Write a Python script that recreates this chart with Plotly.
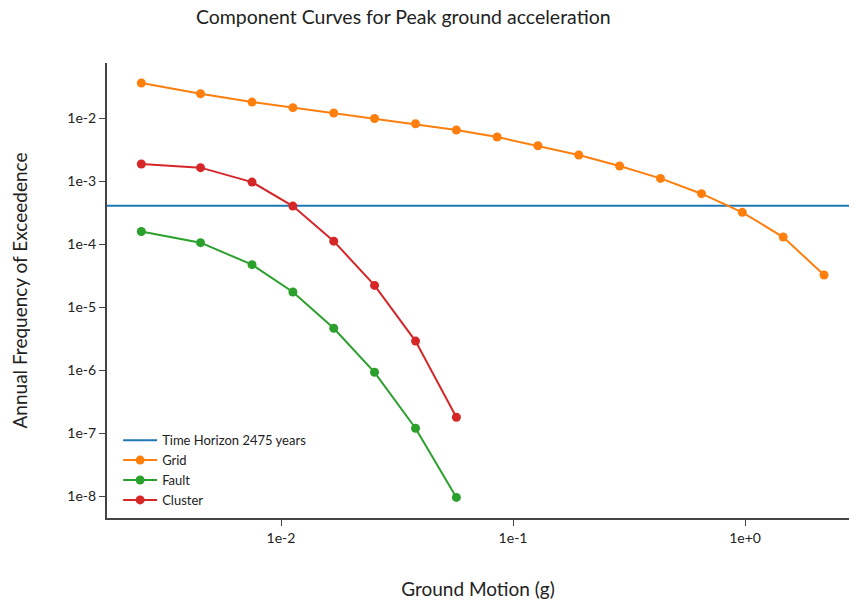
import plotly.graph_objects as go

# ground motion levels (g)
imls = [0.0025, 0.0045, 0.0075, 0.01125, 0.016875, 0.0253, 0.038, 0.057, 0.0854,
        0.128, 0.192, 0.288, 0.432, 0.649, 0.973, 1.46, 2.19]

grid = [0.036, 0.0243, 0.0179, 0.0146, 0.0120, 0.00982, 0.00812, 0.00646, 0.00499,
        0.00363, 0.00259, 0.00173, 0.00110, 6.29e-4, 3.18e-4, 1.29e-4, 3.22e-5]
fault = [1.58e-4, 1.05e-4, 4.7e-5, 1.73e-5, 4.6e-6, 9.2e-7, 1.19e-7, 9.5e-9]
cluster = [1.86e-3, 1.63e-3, 9.6e-4, 4.0e-4, 1.11e-4, 2.2e-5, 2.88e-6, 1.78e-7]

time_horizon = 2475
poe_line = 1.0 / time_horizon

y_tickvals = [1e-2, 1e-3, 1e-4, 1e-5, 1e-6, 1e-7, 1e-8]
y_ticktext = ["1e-2", "1e-3", "1e-4", "1e-5", "1e-6", "1e-7", "1e-8"]
x_tickvals = [1e-2, 1e-1, 1e0]
x_ticktext = ["1e-2", "1e-1", "1e+0"]

FONT = "Lato"
fig = go.Figure()

fig.add_trace(go.Scatter(
    x=[0.0017, 3.0], y=[poe_line, poe_line], mode="lines",
    name="Time Horizon %d years" % time_horizon,
    line=dict(color="#1f77b4", width=2)))
fig.add_trace(go.Scatter(x=imls, y=grid, mode="lines+markers", name="Grid",
                         line=dict(color="#ff7f0e", width=2), marker=dict(size=9)))
fig.add_trace(go.Scatter(x=imls[:len(fault)], y=fault, mode="lines+markers", name="Fault",
                         line=dict(color="#2ca02c", width=2), marker=dict(size=9)))
fig.add_trace(go.Scatter(x=imls[:len(cluster)], y=cluster, mode="lines+markers", name="Cluster",
                         line=dict(color="#d62728", width=2), marker=dict(size=9)))

fig.update_layout(
    width=849, height=602,
    margin=dict(l=107, r=0, t=63, b=84, autoexpand=False),
    paper_bgcolor="white", plot_bgcolor="white",
    font=dict(family=FONT, color="#222"),
    title=dict(text="Component Curves for Peak ground acceleration",
               x=0.475, xanchor="center", y=0.983, yanchor="top",
               font=dict(size=19.5, family=FONT, color="#222")),
    showlegend=True,
    legend=dict(x=0.015, y=0.006, xanchor="left", yanchor="bottom",
                bgcolor="rgba(0,0,0,0)", font=dict(size=13, family=FONT),
                tracegroupgap=0, itemwidth=34),
)
fig.update_xaxes(type="log", range=[-2.75, 0.448], automargin=False,
                 tickvals=x_tickvals, ticktext=x_ticktext,
                 showgrid=False, zeroline=False, showline=True,
                 linecolor="#444", linewidth=2, ticks="outside", ticklen=6,
                 tickcolor="#444", tickfont=dict(size=14),
                 title=dict(text="Ground Motion (g)", font=dict(size=19), standoff=38))
fig.update_yaxes(type="log", range=[-8.349, -1.127], automargin=False,
                 tickvals=y_tickvals, ticktext=y_ticktext,
                 showgrid=False, zeroline=False, showline=True,
                 linecolor="#444", linewidth=2, ticks="outside", ticklen=6,
                 tickcolor="#444", tickfont=dict(size=14),
                 title=dict(text="Annual Frequency of Exceedence", font=dict(size=19), standoff=35))

fig.write_html("out.html", config={"displayModeBar": False},
               post_script="document.body.style.margin='0';document.body.style.overflow='hidden';")
